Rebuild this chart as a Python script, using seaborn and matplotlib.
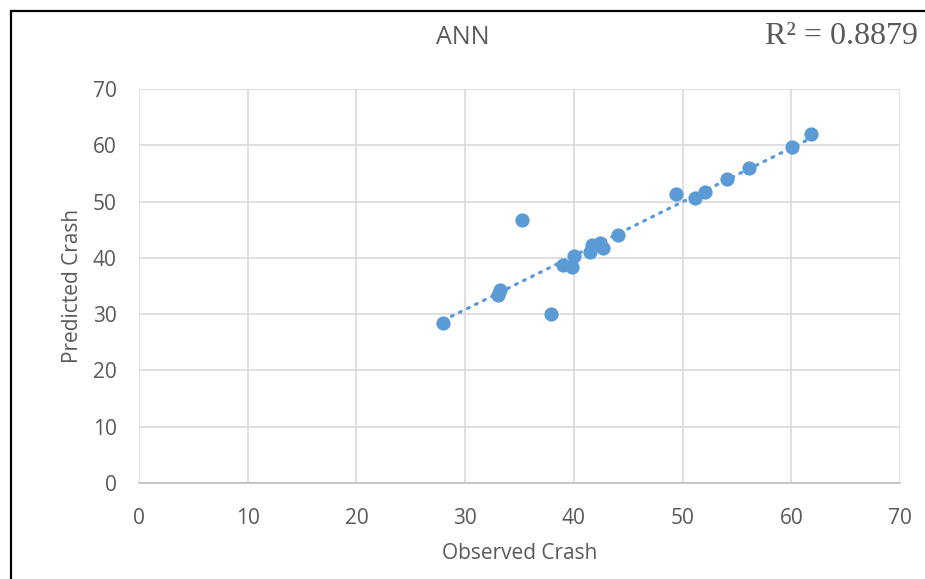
import matplotlib
matplotlib.use("Agg")
import matplotlib.pyplot as plt
import numpy as np
import pandas as pd
import seaborn as sns
from matplotlib.patches import Rectangle

observed = [28.0, 33.0, 33.2, 35.2, 37.9, 39.0, 39.8, 40.0, 41.5, 41.7, 42.4,
            42.7, 44.1, 49.4, 51.1, 52.1, 54.1, 56.1, 60.1, 61.8]
predicted = [28.4, 33.4, 34.3, 46.7, 30.0, 38.8, 38.3, 40.3, 41.1, 42.3, 42.7,
             41.7, 44.0, 51.3, 50.7, 51.7, 54.0, 56.0, 59.7, 62.0]
ticks = [0, 10, 20, 30, 40, 50, 60, 70]
title = "ANN"
r2_label = "R² = 0.8879"

df = pd.DataFrame({"Observed Crash": observed, "Predicted Crash": predicted})

sns.set_style("white")
plt.rcParams["font.family"] = ["Open Sans", "DejaVu Sans"]

blue = "#5B9BD5"
grey = "#595959"

fig = plt.figure(figsize=(9.25, 5.79), dpi=100)
ax = fig.add_axes([0.1503, 0.1658, 0.8227, 0.6805])

sns.scatterplot(data=df, x="Observed Crash", y="Predicted Crash", ax=ax,
                color=blue, s=105, edgecolor=blue, linewidth=0, zorder=3)

# linear trendline
slope, intercept = np.polyfit(df["Observed Crash"], df["Predicted Crash"], 1)
xs = np.array([min(observed), max(observed)])
ax.plot(xs, slope * xs + intercept, color=blue, lw=2.3,
        linestyle=(0, (0.6, 2.2)), dash_capstyle="round", zorder=2)

ax.set_xlim(0, 70)
ax.set_ylim(0, 70)
ax.set_xticks(ticks)
ax.set_yticks(ticks)
ax.grid(True, color="#d9d9d9", lw=1.2)
ax.set_axisbelow(True)
for side in ("top", "right", "left"):
    ax.spines[side].set_visible(False)
ax.spines["bottom"].set_color("#bfbfbf")
ax.spines["bottom"].set_linewidth(1.2)
ax.tick_params(axis="both", length=0, labelsize=15, labelcolor=grey)
ax.tick_params(axis="x", pad=18)
ax.tick_params(axis="y", pad=16)
ax.set_xlabel("Observed Crash", fontsize=15, color=grey, labelpad=10)
ax.set_ylabel("Predicted Crash", fontsize=15, color=grey, labelpad=7)

fig.text(463 / 925, 1 - 37 / 579, title, ha="center", va="center",
         fontsize=18, color=grey)
# keep the whole R² label inside the canvas
fig.text(918 / 925, 1 - 37 / 579, r2_label, ha="right", va="center",
         fontsize=23, color=grey, family=["Liberation Serif", "DejaVu Serif"])

# outer frame (left and top edges visible)
fig.add_artist(Rectangle((11 / 925, -0.1), 1.2, 1 - 11 / 579 + 0.1,
                         transform=fig.transFigure, fill=False,
                         edgecolor="black", lw=1.6))

fig.savefig("out.png", dpi=100)
